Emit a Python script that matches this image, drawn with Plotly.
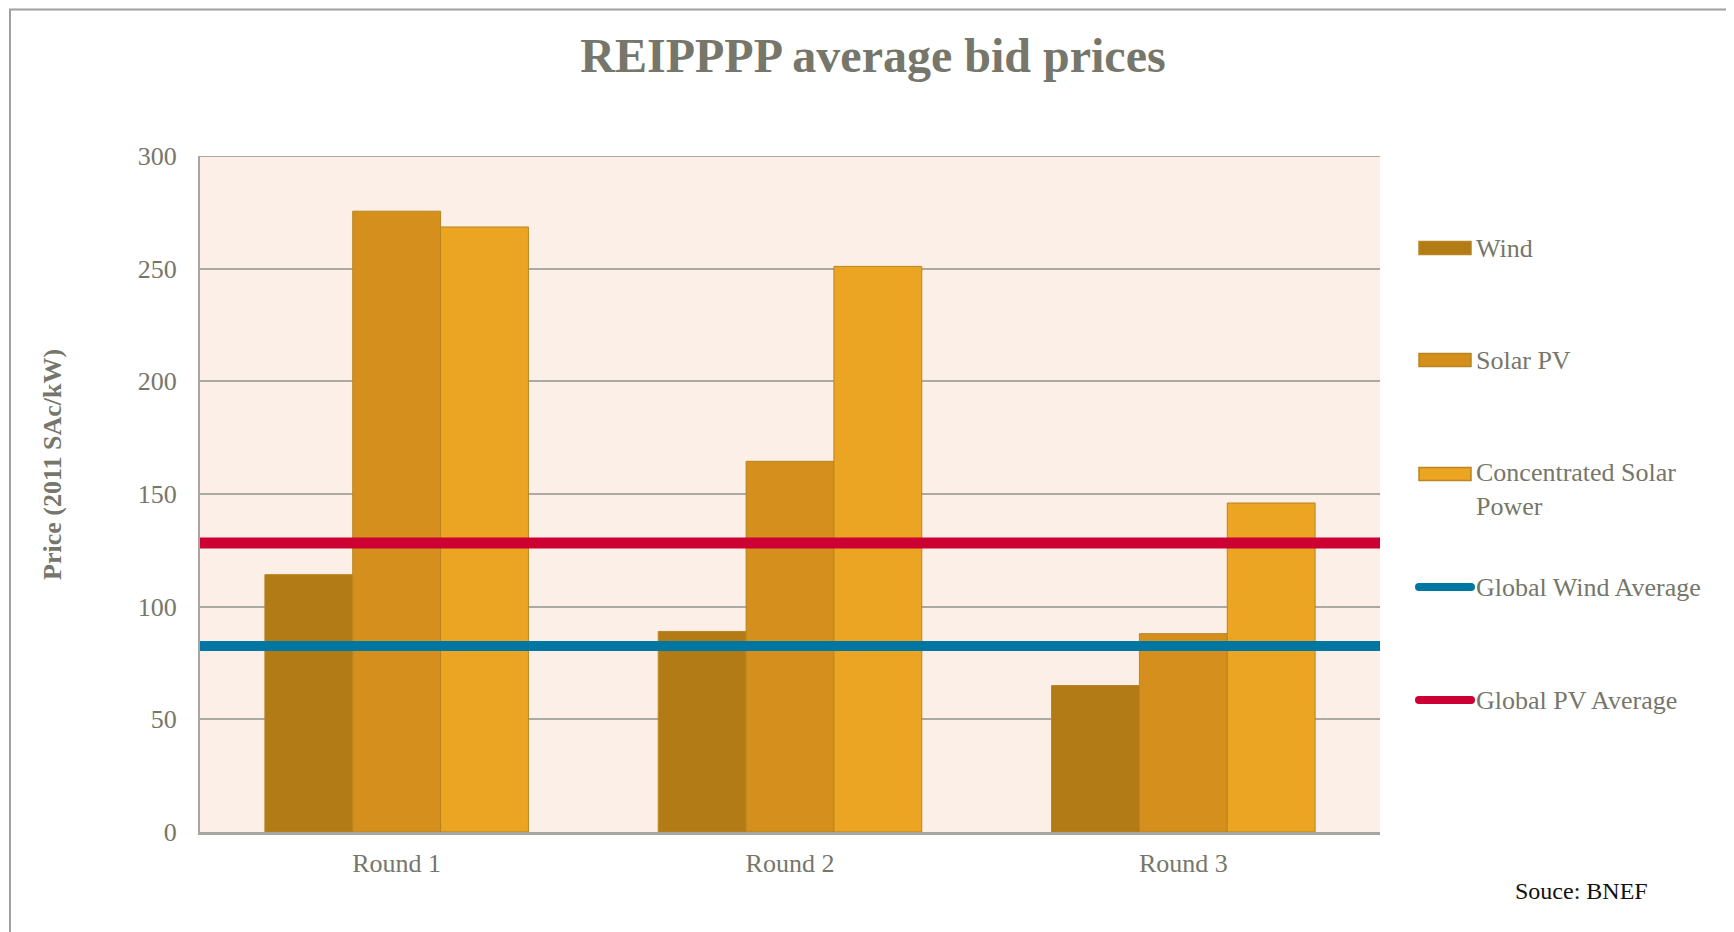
import plotly.graph_objects as go

# ---- data ----
rounds = ["Round 1", "Round 2", "Round 3"]
wind = [114.2, 89.0, 65.0]
solar_pv = [275.5, 164.5, 88.0]
csp = [268.5, 251.0, 146.0]
global_wind_avg = 82.5
global_pv_avg = 128.3
series_names = ["Wind", "Solar PV", "Concentrated Solar<br>Power", "Global Wind Average", "Global PV Average"]
y_ticks = [0, 50, 100, 150, 200, 250, 300]

# ---- styling ----
FONT = "Liberation Serif, Times New Roman, serif"
GRAY = "#76766a"
C_WIND = "#b37b15"
C_PV = "#d48f1c"
C_CSP = "#eca423"
C_BLUE = "#0077a3"
C_RED = "#cc0033"
OUTLINE = "#b8851f"
GRID = "#aaa9a2"

OFF = 8  # page body margin
W_PX, H_PX = 1734 - OFF, 932 - OFF
# page coordinates of plot area
L, R_EDGE, T, B = 200, 1380, 156, 832
PW, PH = R_EDGE - L, B - T


def X(px):
    return (px - L) / PW


def Y(py):
    return (B - py) / PH


fig = go.Figure()
for name, vals, col in [(series_names[0], wind, C_WIND),
                        (series_names[1], solar_pv, C_PV),
                        (series_names[2], csp, C_CSP)]:
    fig.add_trace(go.Bar(x=rounds, y=vals, name=name, marker=dict(color=col, line=dict(color=OUTLINE, width=1)),
                         showlegend=False))

fig.add_trace(go.Scatter(x=[0, 1], y=[global_wind_avg] * 2, xaxis="x2", mode="lines",
                         line=dict(color=C_BLUE, width=10), name=series_names[3], showlegend=False))
fig.add_trace(go.Scatter(x=[0, 1], y=[global_pv_avg] * 2, xaxis="x2", mode="lines",
                         line=dict(color=C_RED, width=11), name=series_names[4], showlegend=False))

shapes = []
annotations = []
# top gridline
shapes.append(dict(type="line", xref="paper", yref="y", x0=0, x1=1, y0=y_ticks[-1], y1=y_ticks[-1],
                   line=dict(color=GRID, width=2), layer="below"))
# frame
shapes.append(dict(type="path", xref="paper", yref="paper",
                   path=f"M{X(10)},{Y(940)} L{X(10)},{Y(9.5)} L{X(1740)},{Y(9.5)}",
                   line=dict(color="#a0a0a0", width=2)))

# custom legend
leg_y = [248, 360, 474, 587, 700]
leg_cols = [C_WIND, C_PV, C_CSP, C_BLUE, C_RED]
for i, (yy, col) in enumerate(zip(leg_y, leg_cols)):
    if i < 3:
        shapes.append(dict(type="rect", xref="paper", yref="paper",
                           x0=X(1419), x1=X(1471), y0=Y(yy - 6.5), y1=Y(yy + 6.5),
                           fillcolor=col, line=dict(color=OUTLINE, width=1.5)))
    else:
        shapes.append(dict(type="line", xref="paper", yref="paper",
                           x0=X(1419), x1=X(1471), y0=Y(yy), y1=Y(yy),
                           line=dict(color=col, width=8)))
        for cx in (1419, 1471):
            shapes.append(dict(type="circle", xref="paper", yref="paper",
                               x0=X(cx - 4), x1=X(cx + 4), y0=Y(yy - 4), y1=Y(yy + 4),
                               fillcolor=col, line=dict(width=0)))
    ty = yy + 15.5 if i == 2 else yy
    annotations.append(dict(text=series_names[i], xref="paper", yref="paper",
                            x=X(1474), y=Y(ty), xanchor="left", yanchor="middle", align="left",
                            showarrow=False, font=dict(family=FONT, size=26, color=GRAY)))

# y-axis title
annotations.append(dict(text="<b>Price (2011 SAc/kW)</b>", xref="paper", yref="paper",
                        x=X(53), y=Y(465), textangle=-90, showarrow=False,
                        xanchor="center", yanchor="middle",
                        font=dict(family=FONT, size=26, color=GRAY)))
# source
annotations.append(dict(text="Souce: BNEF", xref="paper", yref="paper",
                        x=X(1650), y=Y(891), xanchor="right", yanchor="middle", showarrow=False,
                        font=dict(family=FONT, size=24, color="#111111")))

fig.update_layout(
    width=W_PX, height=H_PX,
    margin=dict(l=L - OFF, r=W_PX - (R_EDGE - OFF), t=T - OFF, b=H_PX - (B - OFF)),
    paper_bgcolor="white", plot_bgcolor="#fcefe7",
    barmode="group", bargap=0.33, bargroupgap=0,
    title=dict(text="<b>REIPPPP average bid prices</b>", x=(873 - OFF) / W_PX, xanchor="center",
               y=1 - (55 - OFF) / H_PX, yanchor="middle", yref="container",
               font=dict(family=FONT, size=48, color=GRAY)),
    xaxis=dict(type="category", showgrid=False, showline=True, linecolor="#a6a6a0", linewidth=3,
               ticks="", tickfont=dict(family=FONT, size=26, color=GRAY), ticklabelstandoff=6),
    xaxis2=dict(overlaying="x", range=[0, 1], visible=False),
    yaxis=dict(range=[0, 300], tickvals=y_ticks, showgrid=True, gridcolor=GRID, gridwidth=1.5,
               showline=True, linecolor="#a6a6a0", linewidth=2, zeroline=False, ticks="",
               tickfont=dict(family=FONT, size=26, color=GRAY), ticklabelstandoff=16),
    shapes=shapes, annotations=annotations, showlegend=False,
)

fig.write_html("out.html")
